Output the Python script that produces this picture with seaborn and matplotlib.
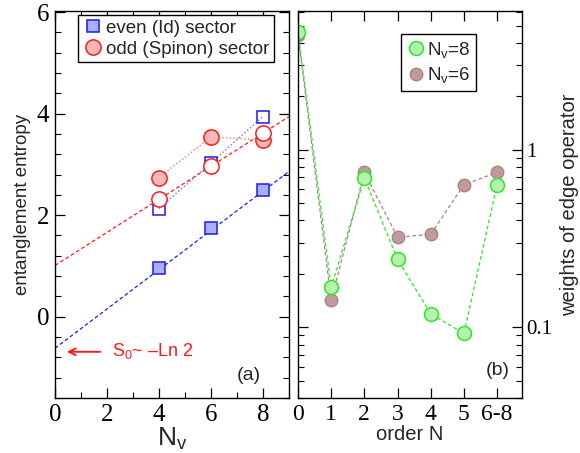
import matplotlib
matplotlib.use('Agg')
import matplotlib.pyplot as plt
import seaborn as sns
from matplotlib.lines import Line2D
from matplotlib.ticker import FixedLocator, MultipleLocator, LogLocator, NullFormatter

# ---- data ----
# panel (a): entanglement entropy vs N_v
nv = [4, 6, 8]
even_filled = [0.96, 1.75, 2.49]
even_open = [2.13, 3.03, 3.94]
odd_filled = [2.74, 3.54, 3.48]
odd_open = [2.31, 2.97, 3.61]
fit_x = [0, 9]
fit_even = [-0.62, 2.86]
fit_odd = [1.01, 3.94]
a_xticks = [0, 2, 4, 6, 8]
a_yticks = [0, 2, 4, 6]

# panel (b): weights of edge operator vs order N
order_pos = [0, 1, 2, 3, 4, 5, 6]
order_labels = ['0', '1', '2', '3', '4', '5', '6-8']
w_nv8 = [4.61, 0.168, 0.694, 0.242, 0.119, 0.0925, 0.636]
w_nv6 = [4.45, 0.142, 0.746, 0.322, 0.334, 0.636, 0.746]
b_yticks = [0.1, 1]
b_ylabels = ['0.1', '1']

sns.set_theme(style="ticks")
plt.rcParams['font.family'] = ['Liberation Sans', 'DejaVu Sans']
plt.rcParams['mathtext.fontset'] = 'custom'
plt.rcParams['mathtext.rm'] = 'Liberation Sans'
plt.rcParams['mathtext.it'] = 'Liberation Sans'

SERIF = ['Liberation Serif', 'DejaVu Serif']
BLUE = '#1a1aff'
RED = '#ff1a1a'
GREEN = '#22ee22'
BROWN = '#b08080'

fig = plt.figure(figsize=(5.8, 4.53), dpi=100)
ax1 = fig.add_axes([0.0948, 0.1214, 0.4034, 0.8543])
ax2 = fig.add_axes([0.5138, 0.1214, 0.3862, 0.8543])

# ---------------- panel (a) ----------------
sns.lineplot(x=fit_x, y=fit_even, ax=ax1, color=BLUE, linestyle=(0, (3, 2)), lw=0.9)
sns.lineplot(x=fit_x, y=fit_odd, ax=ax1, color=RED, linestyle=(0, (3, 2)), lw=0.9)
sns.lineplot(x=nv, y=even_open, ax=ax1, color='#6f6fff', linestyle=':', lw=1.0,
             marker='s', markersize=9, markerfacecolor='none', markeredgecolor=BLUE,
             markeredgewidth=1.1)
sns.lineplot(x=nv, y=odd_filled, ax=ax1, color='#ff6f6f', linestyle=':', lw=1.0,
             marker='o', markersize=11, markerfacecolor='#f6b8b8', markeredgecolor=RED,
             markeredgewidth=1.1)
sns.lineplot(x=nv, y=even_filled, ax=ax1, color=BLUE, linestyle='none',
             marker='s', markersize=9, markerfacecolor='#a8b0ff', markeredgecolor=BLUE,
             markeredgewidth=1.1)
sns.lineplot(x=nv, y=odd_open, ax=ax1, color=RED, linestyle='none',
             marker='o', markersize=11, markerfacecolor='white', markeredgecolor=RED,
             markeredgewidth=1.1)

ax1.set_xlim(0, 9)
ax1.set_ylim(-1.6, 6.02)
ax1.set_xticks(a_xticks)
ax1.set_xticklabels([str(v) for v in a_xticks], fontfamily=SERIF, fontsize=18)
ax1.set_yticks(a_yticks)
ax1.set_yticklabels([str(v) for v in a_yticks], fontfamily=SERIF, fontsize=18)
ax1.xaxis.set_minor_locator(MultipleLocator(1))
ax1.yaxis.set_minor_locator(MultipleLocator(0.4))
ax1.set_xlabel('N$_\\mathregular{v}$', fontsize=19, labelpad=0)
ax1.set_ylabel('entanglement entropy', fontsize=13.5, labelpad=4)

ax1.annotate('', xy=(0.35, -0.69), xytext=(1.85, -0.69),
             arrowprops=dict(arrowstyle='->', color=RED, lw=1.4, mutation_scale=12))
ax1.text(2.2, -0.68, 'S$_\\mathregular{0}$~ \u2013Ln 2', color=RED, fontsize=13, va='center')
ax1.text(7.0, -1.15, '(a)', fontsize=14, va='center')

h_even = Line2D([], [], linestyle='none', marker='s', markersize=9,
                markerfacecolor='#a8b0ff', markeredgecolor=BLUE, markeredgewidth=1.1)
h_odd = Line2D([], [], linestyle='none', marker='o', markersize=11,
               markerfacecolor='#f6b8b8', markeredgecolor=RED, markeredgewidth=1.1)
leg1 = ax1.legend([h_even, h_odd], ['even (Id) sector', 'odd (Spinon) sector'],
                  loc='upper left', bbox_to_anchor=(0.1, 0.99), fontsize=13.5,
                  frameon=True, fancybox=False, edgecolor='black', framealpha=1,
                  handletextpad=0.1, borderpad=0.25, labelspacing=0.2, borderaxespad=0,
                  handlelength=1.1)
leg1.get_frame().set_linewidth(1.0)

# ---------------- panel (b) ----------------
sns.lineplot(x=order_pos, y=w_nv6, ax=ax2, color=BROWN, linestyle=(0, (3, 2)), lw=0.9,
             marker='o', markersize=9, markerfacecolor='#c09a9a', markeredgecolor=BROWN,
             markeredgewidth=1.0)
sns.lineplot(x=order_pos, y=w_nv8, ax=ax2, color=GREEN, linestyle=(0, (3, 2)), lw=0.9,
             marker='o', markersize=10, markerfacecolor='#b8f0b0', markeredgecolor=GREEN,
             markeredgewidth=1.1)

ax2.set_yscale('log')
ax2.set_xlim(0, 6.75)
ax2.set_ylim(0.04, 6.05)
ax2.set_xticks(order_pos)
ax2.set_xticklabels(order_labels, fontfamily=SERIF, fontsize=17)
ax2.yaxis.set_major_locator(FixedLocator(b_yticks))
ax2.set_yticklabels(b_ylabels, fontfamily=SERIF, fontsize=15)
ax2.yaxis.set_minor_locator(LogLocator(base=10, subs=range(2, 10)))
ax2.yaxis.set_minor_formatter(NullFormatter())
ax2.set_xlabel('order N', fontsize=14.5, labelpad=0)
ax2.yaxis.set_label_position('right')
ax2.set_ylabel('weights of edge operator', fontsize=14.5, labelpad=6)
ax2.text(5.65, 0.057, '(b)', fontsize=14, va='center')

h8 = Line2D([], [], linestyle='none', marker='o', markersize=10,
            markerfacecolor='#b8f0b0', markeredgecolor=GREEN, markeredgewidth=1.1)
h6 = Line2D([], [], linestyle='none', marker='o', markersize=9,
            markerfacecolor='#c09a9a', markeredgecolor=BROWN, markeredgewidth=1.0)
leg2 = ax2.legend([h8, h6], ['N$_\\mathregular{v}$=8', 'N$_\\mathregular{v}$=6'],
                  loc='upper left', bbox_to_anchor=(0.46, 0.94), fontsize=13.5,
                  frameon=True, fancybox=False, edgecolor='black', framealpha=1,
                  handletextpad=0.1, borderpad=0.3, labelspacing=0.3, borderaxespad=0,
                  handlelength=1.0)
leg2.get_frame().set_linewidth(1.0)

# ticks: inward on all sides
for ax in (ax1, ax2):
    for s in ax.spines.values():
        s.set_color('black')
        s.set_linewidth(1.0)
    ax.tick_params(which='both', direction='in', top=True, right=True, left=True,
                   bottom=True, colors='black')
    ax.tick_params(which='major', length=7, width=0.9)
    ax.tick_params(which='minor', length=4, width=0.8)

ax1.tick_params(axis='both', pad=4)
ax2.tick_params(axis='y', labelleft=False, labelright=True, pad=3)
ax2.tick_params(axis='x', pad=4)

fig.savefig('out.png', dpi=100)
